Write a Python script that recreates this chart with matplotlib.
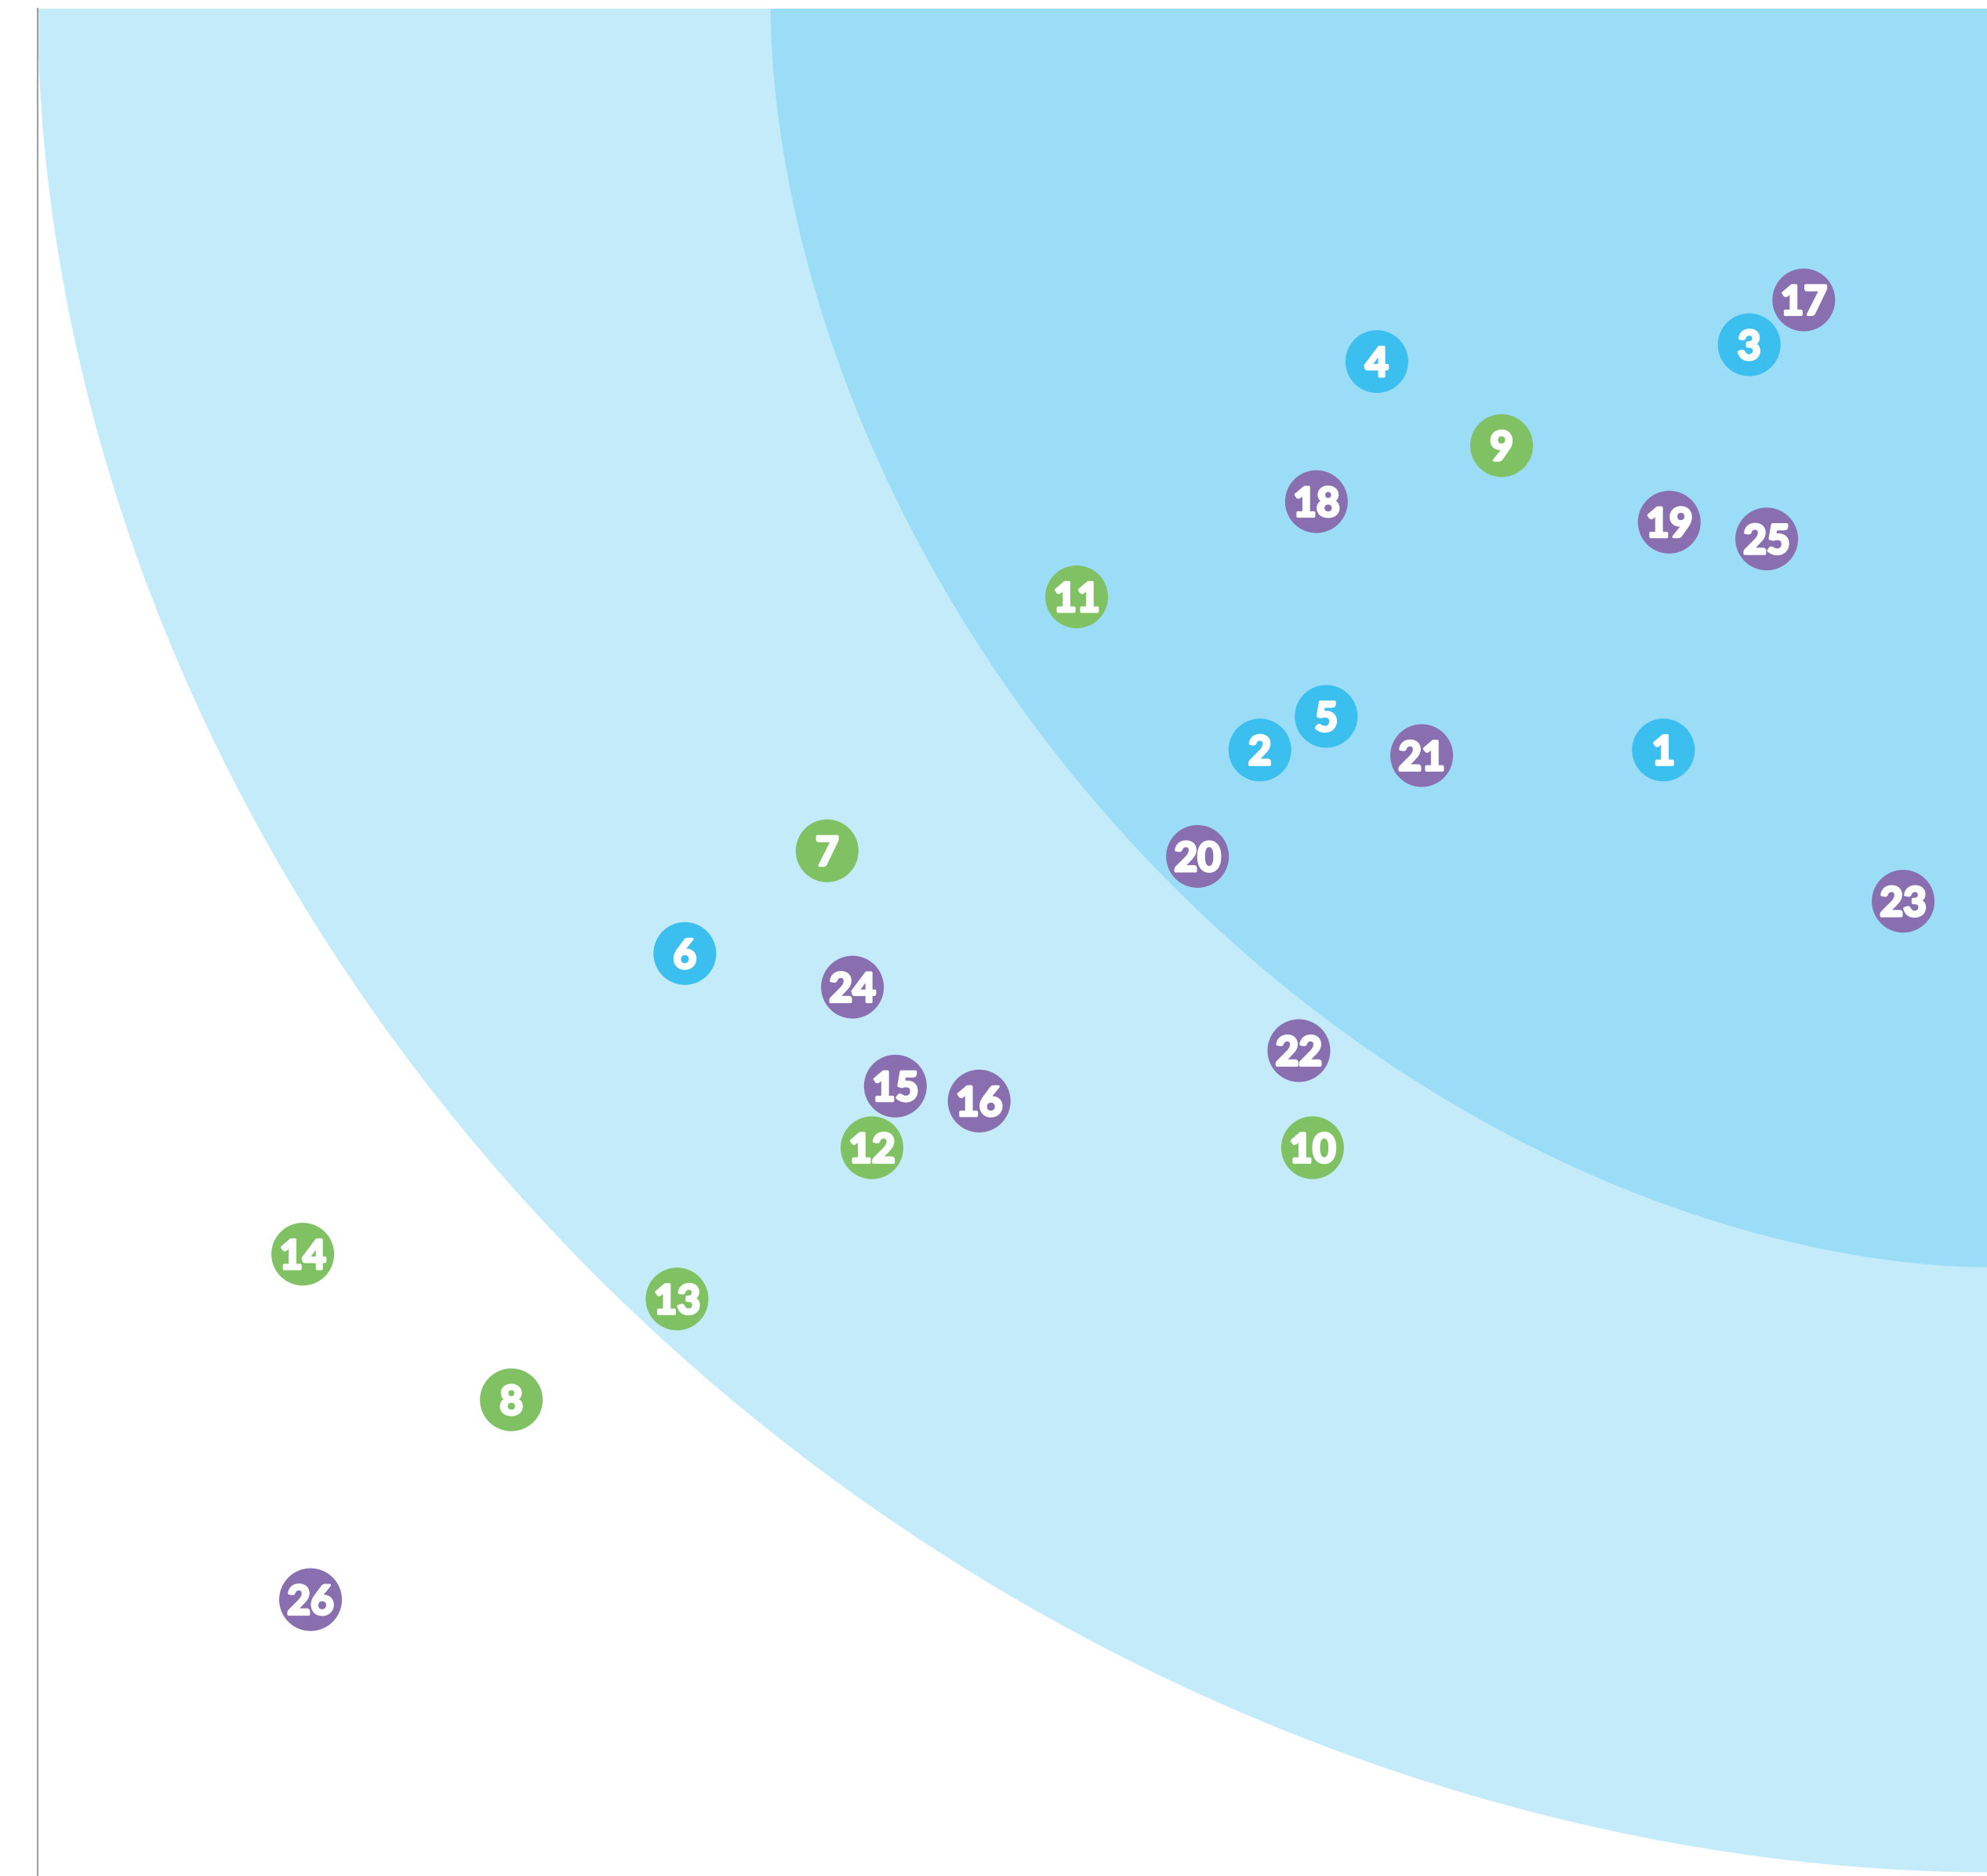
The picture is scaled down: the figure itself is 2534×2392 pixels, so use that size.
import numpy as np
import matplotlib.pyplot as plt
import matplotlib.patheffects as pe
from matplotlib.patches import Polygon

# bubble data (x, y on a 0-100 scale), grouped by colour
ids = [str(i) for i in range(1, 27)]
xs = [83.4, 62.7, 87.8, 68.7, 66.1, 33.2, 40.5, 24.3, 75.1, 65.4, 53.3, 42.8, 32.8,
      13.6, 44.0, 48.3, 90.6, 65.6, 83.7, 59.5, 71.0, 64.7, 95.7, 41.8, 88.7, 14.0]
ys = [60.3, 60.3, 82.0, 81.1, 62.1, 49.4, 54.9, 25.5, 76.6, 39.0, 68.5, 39.0, 30.9,
      33.3, 42.3, 41.5, 84.4, 73.6, 72.5, 54.6, 60.0, 44.2, 52.2, 47.6, 71.6, 14.8]
groups = ["a"] * 6 + ["b"] * 8 + ["c"] * 12
group_colors = {"a": "#3bbfef", "b": "#80c263", "c": "#8a6fb0"}

# zones: rounded quarter shapes anchored on the top-right corner
zone_rx = [100, 62.4]
zone_ry = [99.8, 67.4]
zone_pow = [1.92, 1.82]
zone_colors = ["#c4ebf9", "#9bddf6"]

W, H = 2534, 2392
fig = plt.figure(figsize=(W / 100, H / 100), dpi=100)
ax = fig.add_axes([48 / W, 0, (W - 48) / W, (H - 11) / H])
ax.set_xlim(0, 100)
ax.set_ylim(0, 100)

t = np.linspace(0, np.pi / 2, 400)
for rx, ry, p, c in zip(zone_rx, zone_ry, zone_pow, zone_colors):
    px = 100 - rx * np.cos(t) ** (2 / p)
    py = 100 - ry * np.sin(t) ** (2 / p)
    pts = np.column_stack([np.append(px, 100), np.append(py, 100)])
    ax.add_patch(Polygon(pts, closed=True, facecolor=c, edgecolor="none", zorder=1))

cols = [group_colors[g] for g in groups]
ax.scatter(xs, ys, s=57.6 ** 2, c=cols, edgecolors="none", zorder=3, clip_on=False)

for lab, x, y in zip(ids, xs, ys):
    ax.annotate(lab, (x, y), xytext=(0, -13.5), textcoords="offset points",
                ha="center", va="baseline", color="white", fontsize=37,
                fontweight="bold", family="Lato", zorder=4,
                path_effects=[pe.withStroke(linewidth=2.5, foreground="white")])

for s in ["top", "right", "bottom"]:
    ax.spines[s].set_visible(False)
ax.spines["left"].set_color("#a0a0a0")
ax.spines["left"].set_linewidth(1.5)
ax.set_xticks([])
ax.set_yticks([])

fig.savefig("out.png", dpi=100)
